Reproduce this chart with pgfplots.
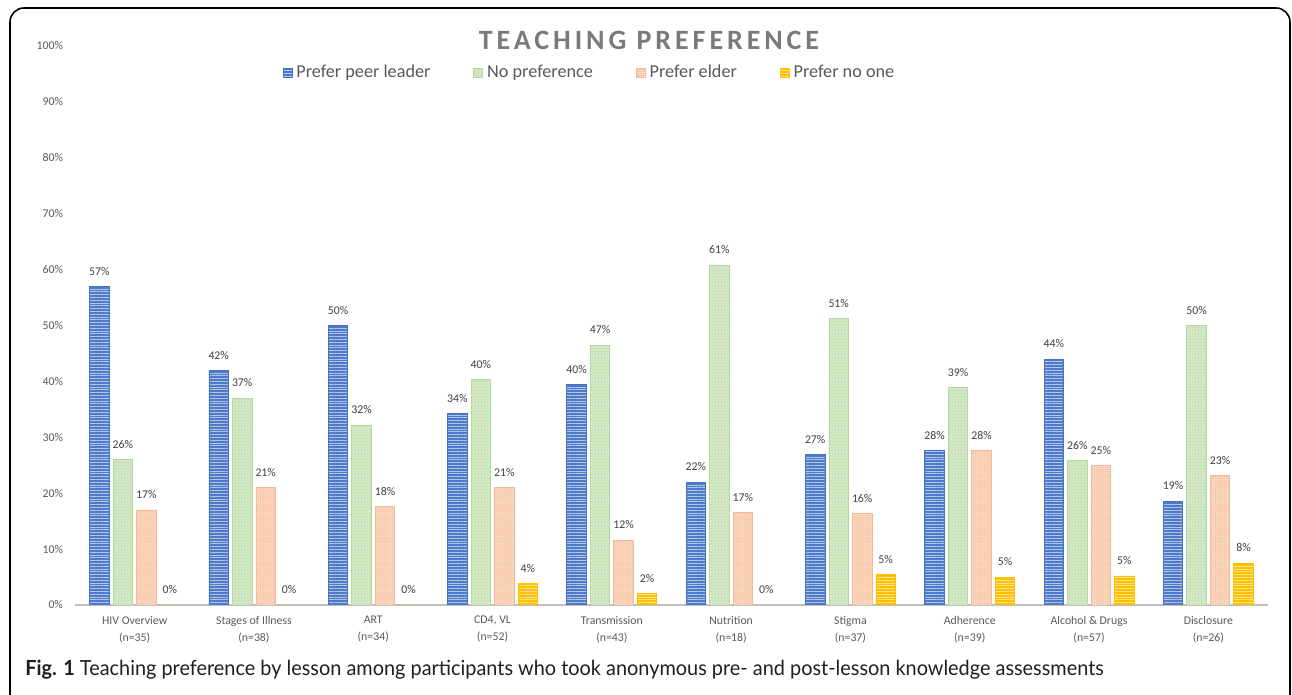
\documentclass[border=0pt]{standalone}
\usepackage{fontspec}
\setmainfont{Carlito}
\newfontfamily\capfont{Lato}
\newfontfamily\titlefont[LetterSpace=14]{Carlito}
\usepackage{pgfplots}
\pgfplotsset{compat=1.18}
\usetikzlibrary{patterns.meta}
\definecolor{cBlue}{HTML}{4F7BCB}
\definecolor{cBlueD}{HTML}{4472C4}
\definecolor{cBlueL}{HTML}{B4C7E7}
\definecolor{cGreen}{HTML}{C9E3B8}
\definecolor{cGreenD}{HTML}{B5D89E}
\definecolor{cOrange}{HTML}{F8CBAD}
\definecolor{cOrangeD}{HTML}{F4B99A}
\definecolor{cYellow}{HTML}{FFC000}
\definecolor{cYellowL}{HTML}{FFE38A}
\definecolor{tgray}{HTML}{595959}
\definecolor{lgray}{HTML}{404040}
\definecolor{titlegray}{HTML}{7A7A7A}
\definecolor{axgray}{HTML}{BFBFBF}
\pgfplotstableread{
x peer nopref elder noone
0 57   26   17   0
1 42   37   21   0
2 50   32.2 17.6 0
3 34.2 40.3 21   3.8
4 39.5 46.5 11.6 2.1
5 22   60.8 16.6 0
6 26.9 51.2 16.3 5.4
7 27.6 38.9 27.6 5.0
8 44   25.9 24.9 5.2
9 18.6 50   23.1 7.5
}\datatable
\begin{document}
\begin{tikzpicture}[x=1pt,y=1pt]
\useasboundingbox (0,0) rectangle (646,347.5);
\begin{scope}
\clip (0,0) rectangle (646,347.5);
\draw[line width=0.8pt, rounded corners=7pt] (5,-20) -- (5,343.5) -- (645,343.5) -- (645,-20);
\end{scope}
\node[font=\titlefont\bfseries\fontsize{14}{16}\selectfont, text=titlegray] at (324.5,327.5) {TEACHING PREFERENCE};
\begin{axis}[
  at={(37.5pt,45pt)}, anchor=south west,
  scale only axis, width=596.5pt, height=279.5pt,
  xmin=-0.5, xmax=9.5, ymin=0, ymax=100,
  ybar=2pt, bar width=9.75pt,
  axis x line=bottom, axis y line=left,
  axis line style={-},
  y axis line style={draw=none},
  x axis line style={draw=axgray, line width=0.8pt},
  major tick length=0pt,
  xtick={0,...,9},
  xticklabels={{HIV Overview\\(n=35)},{Stages of Illness\\(n=38)},{ART\\(n=34)},{CD4, VL\\(n=52)},{Transmission\\(n=43)},{Nutrition\\(n=18)},{Stigma\\(n=37)},{Adherence\\(n=39)},{Alcohol \& Drugs\\(n=57)},{Disclosure\\(n=26)}},
  xticklabel style={align=center, font=\fontsize{5.9}{8.5}\selectfont, text=tgray, yshift=-2pt},
  ytick={0,10,...,100},
  yticklabel={\pgfmathprintnumber{\tick}\%},
  yticklabel style={font=\fontsize{5.9}{7}\selectfont, text=tgray, xshift=-2.5pt},
  /pgf/number format/assume math mode=true,
  nodes near coords={\pgfmathprintnumber[fixed,precision=0]{\pgfplotspointmeta}\%},
  nodes near coords style={font=\fontsize{5.9}{7}\selectfont, text=lgray, yshift=2pt},
  legend style={at={(0.432,0.952)}, anchor=center, draw=none, fill=none,
    legend columns=4, font=\fontsize{9.1}{11}\selectfont, text=tgray,
    /tikz/every even column/.append style={column sep=19.5pt}},
  legend image code/.code={\draw[#1] (0pt,-2.25pt) rectangle (4.5pt,2.25pt);},
]
\addplot[fill=cBlue, draw=cBlueD, line width=0.4pt,
  postaction={pattern={Lines[angle=0,distance=1.4pt,line width=0.4pt]}, pattern color=cBlueL}]
  table[x=x,y=peer]{\datatable};
\addplot[fill=cGreen, draw=cGreenD, line width=0.4pt,
  postaction={pattern={Dots[radius=0.3pt,distance=1.5pt]}, pattern color=white}]
  table[x=x,y=nopref]{\datatable};
\addplot[fill=cOrange, draw=cOrangeD, line width=0.4pt,
  postaction={pattern={Dots[radius=0.25pt,distance=1.1pt]}, pattern color=white!70!cOrange}]
  table[x=x,y=elder]{\datatable};
\addplot[fill=cYellow, draw=cYellow, line width=0.4pt,
  postaction={pattern={Lines[angle=0,distance=1.4pt,line width=0.4pt]}, pattern color=cYellowL}]
  table[x=x,y=noone]{\datatable};
\legend{Prefer peer leader, No preference, Prefer elder, Prefer no one}
\end{axis}
\node[anchor=base west, inner sep=0pt, text={black!88}] at (12.5,9.5) {\scalebox{0.956}[1]{\capfont\fontsize{10.4}{12}\selectfont\textbf{Fig. 1} Teaching preference by lesson among participants who took anonymous pre- and post-lesson knowledge assessments}};
\end{tikzpicture}
\end{document}
